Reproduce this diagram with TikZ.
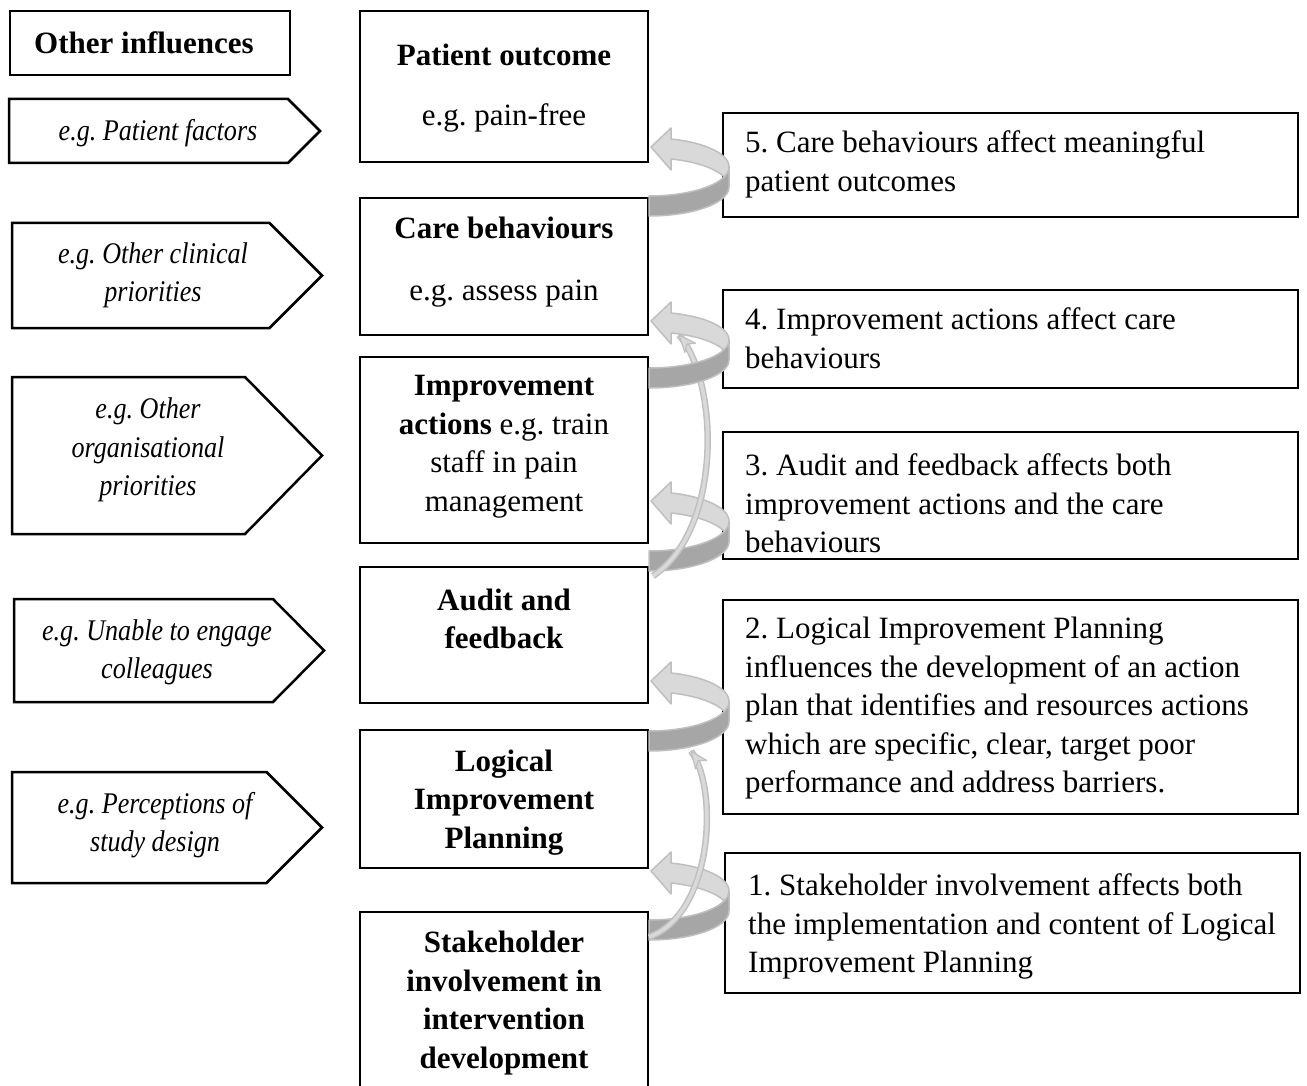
\documentclass[tikz,border=0pt]{standalone}
\usepackage{fontspec}
\setmainfont{Liberation Serif}
\newfontfamily\hintfont[FakeStretch=0.87]{Liberation Serif}
\usetikzlibrary{calc}

\definecolor{ringlight}{HTML}{D9D9D9}
\definecolor{ringdark}{HTML}{A6A6A6}
\definecolor{ringedge}{HTML}{BFBFBF}

% Curled block arrow: #1 = tail point on the lower box, #2 = rise to the head
\newcommand\ringarrow[2]{%
  \begin{scope}[shift={(#1)}]
    \pgfmathsetmacro\ry{#2/1.9613}
    \pgfmathsetmacro\hy{-#2}
    \filldraw[fill=ringlight, draw=ringedge, line width=1.5pt, line join=round]
      plot[domain=0:-74, samples=30, variable=\t] ({80*cos(\t)},{-\ry+\ry*sin(\t)-10})
      -- ({22.05},{\hy-21}) -- ({2},{\hy-2}) -- ({22.05},{\hy+21})
      -- plot[domain=-74:0, samples=30, variable=\t] ({80*cos(\t)},{-\ry+\ry*sin(\t)+10})
      -- cycle;
    \filldraw[fill=ringdark, draw=ringedge, line width=1.5pt, line join=round]
      plot[domain=0:90, samples=30, variable=\t] ({80*cos(\t)},{-\ry+\ry*sin(\t)-10})
      -- plot[domain=90:0, samples=30, variable=\t] ({80*cos(\t)},{-\ry+\ry*sin(\t)+10})
      -- cycle;
  \end{scope}}

% Slim curved arrow from #1 to #4 with control points #2 and #3
\newcommand\slimarrow[4]{%
  \draw[line width=6.5pt, ringedge] (#1) .. controls (#2) and (#3) .. (#4);
  \draw[line width=3.5pt, ringlight] (#1) .. controls (#2) and (#3) .. (#4);
  \filldraw[fill=ringlight, draw=ringedge, line width=1.2pt, line join=round]
    (#4) -- ($($(#4)!17pt!(#3)$)!7pt!90:(#4)$) -- ($(#4)!12pt!(#3)$)
    -- ($($(#4)!17pt!(#3)$)!7pt!-90:(#4)$) -- cycle;}

\tikzset{
  frame/.style={draw=black, line width=2pt, inner sep=0pt},
  midbox/.style={frame, minimum width=288pt},
  sidebox/.style={frame, minimum width=575pt},
  bodytext/.style={font=\fontsize{31}{38.5}\selectfont\frenchspacing, inner sep=0pt},
  midtext/.style={bodytext, align=center},
  sidetext/.style={bodytext, align=left, anchor=west},
  hinttext/.style={bodytext, align=center, font=\hintfont\fontsize{30}{38.5}\selectfont\itshape\frenchspacing},
  tag/.style={draw=black, line width=2.5pt, line join=miter},
}

\begin{document}
\begin{tikzpicture}[x=1pt, y=-1pt]
\useasboundingbox (0,0) rectangle (1307,1086);
\clip (0,0) rectangle (1307,1086);

% ---- left column: other influences ----
\node[frame, minimum width=280pt, minimum height=64pt] (oi) at (150,43) {};
\node[bodytext] (oit) at (144,43) {\textbf{Other influences}};

\draw[tag] (9,99) -- (288,99) -- (320,131) -- (288,163) -- (9,163) -- cycle;
\node[hinttext] (h1) at (158,133) {e.g. Patient factors};

\draw[tag] (12,223) -- (269.5,223) -- (322,275.5) -- (269.5,328) -- (12,328) -- cycle;
\node[hinttext] (h2) at (153,275.5) {e.g. Other clinical\\priorities};

\draw[tag] (12,377) -- (245,377) -- (322,455.5) -- (245,534) -- (12,534) -- cycle;
\node[hinttext] (h3) at (148,450) {e.g. Other\\organisational\\priorities};

\draw[tag] (14,599) -- (273,599) -- (324,650.5) -- (273,702) -- (14,702) -- cycle;
\node[hinttext] (h4) at (157,652.5) {e.g. Unable to engage\\colleagues};

\draw[tag] (12,772) -- (266.5,772) -- (322,827.5) -- (266.5,883) -- (12,883) -- cycle;
\node[hinttext] (h5) at (155,825) {e.g. Perceptions of\\study design};

% ---- middle column: the chain of effects ----
\node[midbox, minimum height=151pt] (po) at (504,86.5) {};
\node[midtext] (pot) at (504,88) {\textbf{Patient outcome}\\[21.5pt] e.g. pain-free};

\node[midbox, minimum height=137pt] (cb) at (504,266.5) {};
\node[midtext] (cbt) at (504,262) {\textbf{Care behaviours}\\[23.5pt] e.g. assess pain};

\node[midbox, minimum height=186pt] (ia) at (504,450) {};
\node[midtext] (iat) at (504,446.5) {\textbf{Improvement}\\\textbf{actions} e.g. train\\staff in pain\\management};

\node[midbox, minimum height=136pt] (af) at (504,635) {};
\node[midtext] (aft) at (504,619) {\textbf{Audit and}\\\textbf{feedback}};

\node[midbox, minimum height=138pt] (lip) at (504,799) {};
\node[midtext] (lipt) at (504,802.5) {\textbf{Logical}\\\textbf{Improvement}\\\textbf{Planning}};

\node[midbox, minimum height=188pt] (si) at (504,1006) {};
\node[midtext] (sit) at (504,1003) {\textbf{Stakeholder}\\\textbf{involvement in}\\\textbf{intervention}\\\textbf{development}};

% ---- right column: explanations ----
\node[sidebox, minimum height=104pt] (r5) at (1010.5,165) {};
\node[sidetext] (r5t) at (745,164.5) {5. Care behaviours affect meaningful\\patient outcomes};

\node[sidebox, minimum height=98pt] (r4) at (1010.5,339) {};
\node[sidetext] (r4t) at (745,338) {4. Improvement actions affect care\\behaviours};

\node[sidebox, minimum height=127pt] (r3) at (1010.5,495.5) {};
\node[sidetext] (r3t) at (745,503.5) {3. Audit and feedback affects both\\improvement actions and the care\\behaviours};

\node[sidebox, minimum height=214pt] (r2) at (1010.5,707) {};
\node[sidetext] (r2t) at (745,708.5) {2. Logical Improvement Planning\\influences the development of an action\\plan that identifies and resources actions\\which are specific, clear, target poor\\performance and address barriers.};

\node[sidebox, minimum height=140pt] (r1) at (1012.5,923) {};
\node[sidetext] (r1t) at (748,926.5) {1. Stakeholder involvement affects both\\the implementation and content of Logical\\Improvement Planning};

% ---- connectors ----
\coordinate (a5) at ($(cb.north east)+(0,9)$);
\coordinate (a4) at ($(ia.north east)+(0,22)$);
\coordinate (a3) at ($(af.north east)+(0,-5)$);
\coordinate (a2) at ($(lip.north east)+(0,12)$);
\coordinate (a1) at ($(si.north east)+(0,19)$);

\coordinate (sAt) at ($(af.north east)+(4,10)$);
\coordinate (sAh) at ($(cb.south east)+(30,-1)$);
\coordinate (sAc1) at ($(sAt)+(70,-47)$);
\coordinate (sAc2) at ($(sAh)+(40,46)$);

\coordinate (sBt) at ($(si.north east)+(0,26)$);
\coordinate (sBh) at ($(lip.north east)+(42,22)$);
\coordinate (sBc1) at ($(sBt)+(64,-23)$);
\coordinate (sBc2) at ($(sBh)+(28,38)$);

\ringarrow{a3}{58}
\ringarrow{a1}{57}
\slimarrow{sAt}{sAc1}{sAc2}{sAh}
\slimarrow{sBt}{sBc1}{sBc2}{sBh}
\ringarrow{a2}{58}
\ringarrow{a4}{55}
\ringarrow{a5}{57}
\end{tikzpicture}
\end{document}
